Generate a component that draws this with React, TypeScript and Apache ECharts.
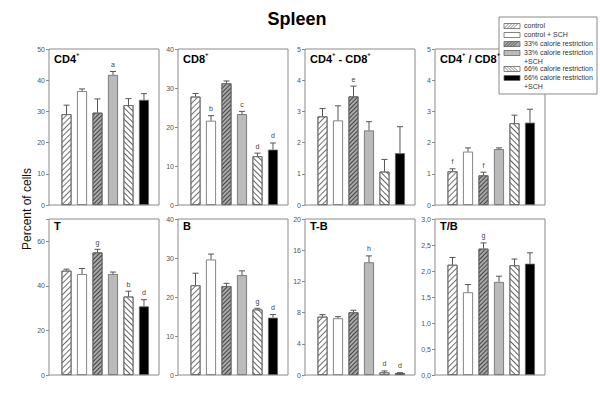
import React, { useEffect, useRef } from "react";
import * as echarts from "echarts";

const groups = [
  "control",
  "control + SCH",
  "33% calorie restriction",
  "33% calorie restriction\n+SCH",
  "66% calorie restriction",
  "66% calorie restriction\n+SCH",
];

const cd4Values = [29.1, 36.5, 29.6, 41.7, 32.0, 33.7];
const cd4Errors = [2.9, 0.7, 4.4, 1.1, 2.1, 2.0];
const cd4Letters = ["", "", "", "a", "", ""];

const cd8Values = [27.8, 21.6, 31.2, 23.3, 12.5, 14.2];
const cd8Errors = [0.8, 1.3, 0.6, 0.7, 0.8, 1.7];
const cd8Letters = ["", "b", "", "c", "d", "d"];

const diffCdValues = [2.84, 2.71, 3.48, 2.39, 1.07, 1.66];
const diffCdErrors = [0.25, 0.47, 0.33, 0.28, 0.39, 0.85];
const diffCdLetters = ["", "", "e", "", "", ""];

const ratioCdValues = [1.08, 1.71, 0.95, 1.79, 2.62, 2.64];
const ratioCdErrors = [0.08, 0.12, 0.1, 0.04, 0.26, 0.43];
const ratioCdLetters = ["f", "", "f", "", "", ""];

const tValues = [46.8, 45.3, 55.0, 45.3, 35.2, 30.8];
const tErrors = [0.7, 2.5, 1.4, 0.9, 2.4, 3.0];
const tLetters = ["", "", "g", "", "b", "d"];

const bValues = [23.0, 29.6, 22.8, 25.6, 16.8, 14.7];
const bErrors = [3.1, 1.4, 0.7, 1.1, 0.3, 0.8];
const bLetters = ["", "", "", "", "g", "d"];

const diffTbValues = [7.48, 7.27, 8.04, 14.45, 0.34, 0.26];
const diffTbErrors = [0.26, 0.21, 0.26, 0.82, 0.18, 0.04];
const diffTbLetters = ["", "", "", "h", "d", "d"];

const ratioTbValues = [2.12, 1.59, 2.43, 1.79, 2.11, 2.14];
const ratioTbErrors = [0.14, 0.15, 0.11, 0.11, 0.12, 0.21];
const ratioTbLetters = ["", "", "g", "", "", ""];

const panels = [
  { label: "{b|CD4}{s|+}", values: cd4Values, errors: cd4Errors, letters: cd4Letters, max: 50, interval: 10 },
  { label: "{b|CD8}{s|+}", values: cd8Values, errors: cd8Errors, letters: cd8Letters, max: 40, interval: 10 },
  { label: "{b|CD4}{s|+}{b| - CD8}{s|+}", values: diffCdValues, errors: diffCdErrors, letters: diffCdLetters, max: 5, interval: 1 },
  { label: "{b|CD4}{s|+}{b| / CD8}{s|+}", values: ratioCdValues, errors: ratioCdErrors, letters: ratioCdLetters, max: 5, interval: 1 },
  { label: "{b|T}", values: tValues, errors: tErrors, letters: tLetters, max: 70, interval: 20 },
  { label: "{b|B}", values: bValues, errors: bErrors, letters: bLetters, max: 40, interval: 10 },
  { label: "{b|T-B}", values: diffTbValues, errors: diffTbErrors, letters: diffTbLetters, max: 20, interval: 4 },
  { label: "{b|T/B}", values: ratioTbValues, errors: ratioTbErrors, letters: ratioTbLetters, max: 3, interval: 0.5, comma: true },
];

const FONT = "'Liberation Sans', Arial, sans-serif";

function hatch(dir: number, color: string, bg: string, gap: number) {
  return {
    symbol: "rect",
    symbolSize: 1,
    dashArrayX: [1, 0],
    dashArrayY: [1, gap],
    rotation: dir * Math.PI / 4,
    color,
    backgroundColor: bg,
  };
}

const barStyles: any[] = [
  { color: "#ffffff", decal: hatch(-1, "#707070", "#ffffff", 3) },
  { color: "#ffffff" },
  { color: "#a9a9a9", decal: hatch(-1, "#444", "#a9a9a9", 2) },
  { color: "#bababa" },
  { color: "#ffffff", decal: hatch(1, "#606060", "#ffffff", 3) },
  { color: "#000000" },
];

const colLefts = [49, 178, 305, 435];
const rowTops = [49, 219];
const PW = 110;
const PH = 156;

function swatch(i: number, x: number, y: number): any[] {
  const w = 16, h = 5;
  const fills = ["#fff", "#fff", "#a9a9a9", "#bababa", "#fff", "#000"];
  const els: any[] = [
    { type: "rect", shape: { x, y, width: w, height: h }, style: { fill: fills[i], stroke: "#666", lineWidth: 0.8 } },
  ];
  if (i === 0 || i === 2 || i === 4) {
    for (let k = 0; k + h <= w; k += 3) {
      const shape = i === 4
        ? { x1: x + k, y1: y, x2: x + k + h, y2: y + h }
        : { x1: x + k, y1: y + h, x2: x + k + h, y2: y };
      els.push({ type: "line", shape, style: { stroke: i === 2 ? "#444" : "#666", lineWidth: 0.8 } });
    }
  }
  return els;
}

export default function App() {
  const ref = useRef<HTMLDivElement>(null);
  useEffect(() => {
    if (!ref.current) return;
    const chart = echarts.init(ref.current, undefined, { renderer: "svg" });
    const grid: any[] = [];
    const xAxis: any[] = [];
    const yAxis: any[] = [];
    const series: any[] = [];
    const graphic: any[] = [];
    panels.forEach((p, i) => {
      const left = colLefts[i % 4];
      const top = rowTops[Math.floor(i / 4)];
      grid.push({ left, top, width: PW, height: PH, show: true, borderColor: "#8a8a8a", borderWidth: 1, backgroundColor: "#fff" });
      xAxis.push({
        gridIndex: i, type: "value", min: -1.13, max: 5.97,
        axisLine: { show: false, onZero: false }, axisTick: { show: false }, axisLabel: { show: false }, splitLine: { show: false },
      });
      yAxis.push({
        gridIndex: i, type: "value", min: 0, max: p.max, interval: p.interval,
        axisLine: { show: false, onZero: false },
        axisTick: { show: true, length: 3, lineStyle: { color: "#8a8a8a" } },
        splitLine: { show: false },
        axisLabel: {
          fontSize: 7, color: "#555", margin: 4, fontFamily: FONT,
          formatter: (v: number) => {
            if (Math.abs(v / p.interval - Math.round(v / p.interval)) > 1e-6) return "";
            return p.comma ? v.toFixed(1).replace(".", ",") : String(v);
          },
        },
      });
      series.push({
        type: "bar", xAxisIndex: i, yAxisIndex: i, barWidth: 10,
        data: p.values.map((v, k) => ({ value: [k, v], itemStyle: { ...barStyles[k], borderColor: "#666", borderWidth: 0.8 } })),
        silent: true,
      });
      series.push({
        type: "custom", xAxisIndex: i, yAxisIndex: i, z: 5,
        itemStyle: { color: "#444" },
        data: p.values.map((v, k) => [k, v, p.errors[k]]),
        renderItem: (params: any, api: any) => {
          const x = api.value(0), v = api.value(1), e = api.value(2);
          const p0 = api.coord([x, v]);
          const p1 = api.coord([x, v + e]);
          const children: any[] = [
            { type: "line", shape: { x1: p0[0], y1: p0[1], x2: p1[0], y2: p1[1] }, style: { stroke: "#555", lineWidth: 1 } },
            { type: "line", shape: { x1: p1[0] - 3, y1: p1[1], x2: p1[0] + 3, y2: p1[1] }, style: { stroke: "#555", lineWidth: 1 } },
          ];
          const letter = p.letters[params.dataIndex];
          if (letter) {
            children.push({
              type: "text",
              style: { text: letter, x: p1[0], y: p1[1] - 7, align: "center", verticalAlign: "middle", fontSize: 7, fill: "#444", fontFamily: FONT },
            });
          }
          return { type: "group", children };
        },
      });
      graphic.push({
        type: "text", left: left + 5, top: top + 1.5, z: 50,
        style: {
          text: p.label,
          rich: {
            b: { fontSize: 11, fontWeight: "bold", fill: "#000", fontFamily: FONT, verticalAlign: "bottom", lineHeight: 14 },
            s: { fontSize: 6, fontWeight: "bold", fill: "#000", fontFamily: FONT, verticalAlign: "top", lineHeight: 14, padding: [0, 0, 6, 0] },
          },
        },
      });
    });

    graphic.push({
      type: "text", x: 297, y: 19, z: 50,
      style: { text: "Spleen", fontSize: 18, fontWeight: "bold", fill: "#000", fontFamily: FONT, align: "center", verticalAlign: "middle" },
    });
    graphic.push({
      type: "text", x: 27, y: 209, rotation: Math.PI / 2, z: 50,
      style: { text: "Percent of cells", fontSize: 12, fill: "#111", fontFamily: FONT, align: "center", verticalAlign: "middle" },
    });

    const legendChildren: any[] = [
      { type: "rect", shape: { x: 499, y: 17, width: 98, height: 77 }, style: { fill: "#fff", stroke: "#8a8a8a", lineWidth: 1 } },
    ];
    const rowsY = [26, 35, 44, 53, 69, 78];
    groups.forEach((g, i) => {
      legendChildren.push(...swatch(i, 504, rowsY[i] - 2.5));
      legendChildren.push({
        type: "text",
        style: { text: g, x: 524, y: rowsY[i] - 4.3, fontSize: 7, lineHeight: 8.3, fill: "#333", fontFamily: FONT, align: "left", verticalAlign: "top" },
      });
    });
    graphic.push({ type: "group", z: 100, children: legendChildren });

    chart.setOption({
      animation: false,
      backgroundColor: "#fff",
      grid, xAxis, yAxis, series, graphic,
    });
    return () => chart.dispose();
  }, []);
  return <div ref={ref} style={{ position: "fixed", left: 0, top: 0, width: 600, height: 410 }} />;
}
